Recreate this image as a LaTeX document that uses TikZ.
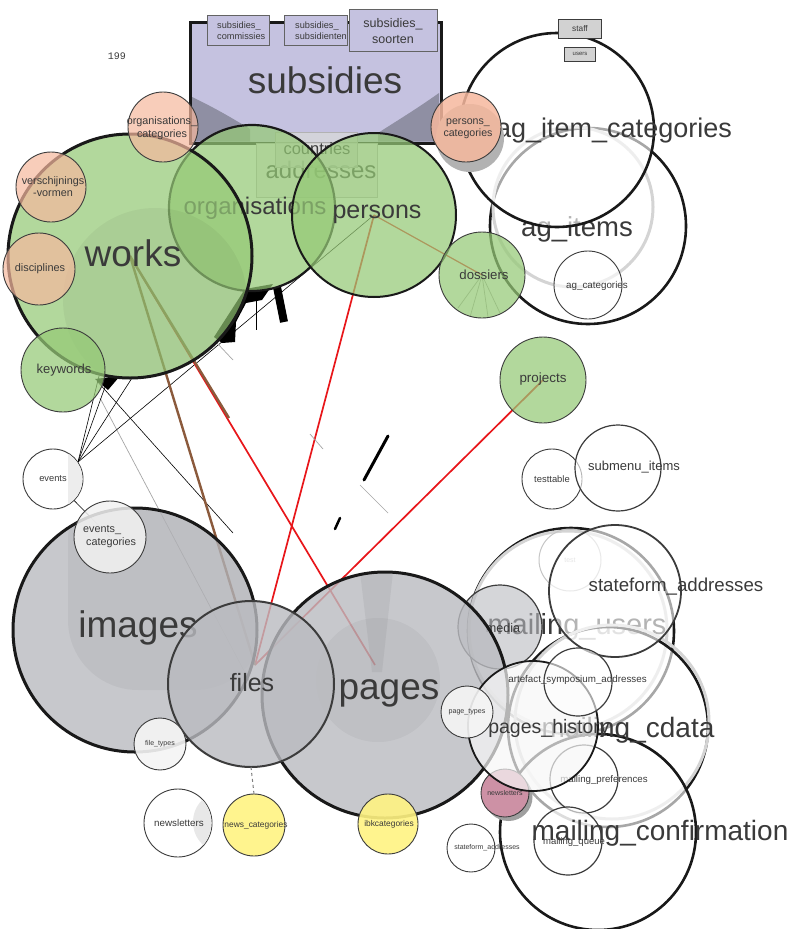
\documentclass[tikz,border=0pt]{standalone}
\usepackage{fontspec}
\setmainfont{Liberation Sans}
\setmonofont{Liberation Mono}
\usetikzlibrary{backgrounds}
\definecolor{grn}{RGB}{149,201,118}
\definecolor{sal}{RGB}{246,184,158}
\definecolor{gry}{RGB}{186,187,192}
\definecolor{lav}{RGB}{197,194,224}
\definecolor{yel}{RGB}{255,243,130}
\definecolor{pnk}{RGB}{205,145,165}
\definecolor{txt}{RGB}{58,58,58}
\definecolor{blk}{RGB}{25,25,25}
\definecolor{dgr}{RGB}{60,60,60}
\definecolor{redc}{RGB}{232,22,26}
\definecolor{brn}{RGB}{139,90,60}
\definecolor{wedge}{RGB}{143,143,163}
\definecolor{ringc}{RGB}{212,212,212}
\newcommand\fsz[1]{\fontsize{#1}{#1}\selectfont}
\newcommand\fsl[2]{\fontsize{#1}{#2}\selectfont}
\tikzset{
 bub/.style={circle, inner sep=0pt, outer sep=0pt, minimum size=#1pt},
 lbl/.style={text=txt, inner sep=0pt, align=center},
 bthick/.style={draw=blk, line width=2.6pt},
 bmid/.style={draw=dgr, line width=1.6pt},
 bthin/.style={draw=dgr, line width=0.9pt},
 gfill/.style={fill=grn, fill opacity=0.72},
 sfill/.style={fill=sal, fill opacity=0.7},
 gyfill/.style={fill=gry, fill opacity=0.8},
 wfill/.style={fill=white, fill opacity=0.62},
 yfill/.style={fill=yel, fill opacity=0.9},
 sbox/.style={rectangle, inner sep=0pt, fill=lav, draw=dgr!80, line width=0.8pt},
 redline/.style={draw=redc, line width=1.7pt},
 brline/.style={draw=brn, line width=2.4pt},
 blkline/.style={draw=black, line width=0.6pt},
 gryline/.style={draw=gray!70, line width=0.7pt},
}
\begin{document}
\begin{tikzpicture}[x=1pt,y=-1pt]
\useasboundingbox (0,0) rectangle (788,929);

\node[lbl, font=\ttfamily\fsz{10}] (num) at (117,56) {199};

% subsidies
\node[rectangle, inner sep=0pt, minimum width=251pt, minimum height=121pt, fill=lav, draw=blk, line width=3pt] (subsidies) at (315.5,82.5) {};
\fill[wedge] (192,97) .. controls (215,108) and (232,118) .. (250,129) -- (250,141.5) -- (192,141.5) -- cycle;
\fill[wedge] (439,93) .. controls (415,110) and (395,122) .. (378,133) -- (378,141.5) -- (439,141.5) -- cycle;
\node[lbl, font=\fsz{37}] (subsidies-l) at (325,80) {subsidies};
\node[sbox, minimum width=62pt, minimum height=30pt] (subcomm) at (238,30) {};
\node[lbl, font=\fsl{9.2}{11}, align=left, anchor=west] (subcomm-l) at (217,30.5) {subsidies\_\\commissies};
\node[sbox, minimum width=63pt, minimum height=30pt] (subsubs) at (315.5,30) {};
\node[lbl, font=\fsl{9.2}{11}, align=left, anchor=west] (subsubs-l) at (295,30.5) {subsidies\_\\subsidienten};
\node[sbox, minimum width=88pt, minimum height=42pt] (subsoort) at (393,30) {};
\node[lbl, font=\fsl{12.5}{16}] (subsoort-l) at (393,31.5) {subsidies\_\\soorten};

% addresses & countries
\node[rectangle, inner sep=0pt, minimum width=121pt, minimum height=54pt, fill=gray!12, draw=gray!55, line width=1pt] (addresses) at (316.5,170) {};
\node[lbl, font=\fsz{24}] (addresses-l) at (321,170) {addresses};
\node[rectangle, inner sep=0pt, minimum width=82pt, minimum height=35pt, fill=gray!30, fill opacity=0.75, draw=gray!60, line width=1pt] (countries) at (316,149.5) {};
\node[lbl, font=\fsz{16.5}] (countries-l) at (317,149) {countries};

% green
\node[bub=166, gfill, bthick, line width=2.2pt] (organisations) at (252,208) {};
\node[lbl, font=\fsz{24}] (organisations-l) at (255,208) {organisations};
\node[bub=164, gfill, bthick, line width=2pt] (persons) at (374,215) {};
\node[lbl, font=\fsz{25}] (persons-l) at (377,214) {persons};
\node[bub=244, gfill, bthick, line width=3pt] (works) at (130,256) {};
\begin{scope}
\clip (130,256) circle (120pt);
\fill[black, opacity=0.045] (155,300) circle (92pt);
\end{scope}
\node[lbl, font=\fsz{37}] (works-l) at (133,253) {works};

% salmon
\node[bub=70, sfill, bthin] (orgcat) at (163,127) {};
\node[lbl, font=\fsl{10.8}{12.5}] (orgcat-l) at (162,128) {organisations\_\\categories};
\node[bub=70, sfill, bthin] (versch) at (51,187) {};
\node[lbl, font=\fsl{10.8}{12.5}] (versch-l) at (53,186.5) {verschijnings\\-vormen};
\node[bub=72, sfill, bthin] (discipl) at (39,269) {};
\node[lbl, font=\fsz{10.9}] (discipl-l) at (40,269) {disciplines};
\node[bub=84, gfill, bthin] (keywords) at (63,370) {};
\node[lbl, font=\fsz{13}] (keywords-l) at (64,370) {keywords};

% ag group
\node[bub=196, wfill, bthick] (agitems) at (588,226) {};
\draw[ringc, line width=3pt] (573,207) circle (80pt);
\node[lbl, font=\fsz{27.5}] (agitems-l) at (577,229) {ag\_items};
\node[bub=194, wfill, bthick] (agitemcat) at (557,130) {};
\node[lbl, font=\fsz{27}] (agitemcat-l) at (614,131) {ag\_item\_categories};
\node[bub=68, wfill, bthin] (agcat) at (588,285) {};
\node[lbl, font=\fsz{9.8}] (agcat-l) at (597,286) {ag\_categories};
\node[rectangle, inner sep=0pt, minimum width=43pt, minimum height=19pt, fill=gray!35, draw=dgr, line width=0.8pt] (staff) at (579.5,28.5) {};
\node[lbl, font=\fsz{8.3}] (staff-l) at (580,29) {staff};
\node[rectangle, inner sep=0pt, minimum width=31pt, minimum height=14pt, fill=gray!35, draw=dgr, line width=0.8pt] (users) at (579.5,54) {};
\node[lbl, font=\fsz{6}] (users-l) at (580,54) {users};
\fill[gray!60] (470,138) circle (34pt);
\node[bub=70, sfill, fill opacity=0.85, bthin] (perscat) at (466,127) {};
\node[lbl, font=\fsl{10.6}{12.5}] (perscat-l) at (468,128.5) {persons\_\\categories};
\node[bub=86, gfill, bthin] (dossiers) at (482,275) {};
\node[lbl, font=\fsz{13.2}] (dossiers-l) at (484,275) {dossiers};
\node[bub=86, gfill, bthin] (projects) at (543,380) {};
\node[lbl, font=\fsz{13.4}] (projects-l) at (543,379) {projects};

% events
\node[bub=60, fill=white, bthin] (events) at (53,479) {};
\begin{scope}
\clip (53,479) circle (29.5pt);
\fill[gray!14] (68,440) rectangle (90,520);
\end{scope}
\node[lbl, font=\fsz{9.3}] (events-l) at (53,479) {events};

% mailing big circles
\node[bub=206, wfill, bthick] (mailusers) at (571,631) {};
\draw[ringc, line width=3pt] (568,630) circle (99pt);
\node[lbl, font=\fsz{29}] (mailusers-l) at (577,627) {mailing\_users};
\node[bub=200, wfill, bthick] (mailcdata) at (608,727) {};
\draw[ringc, line width=3pt] (612,722) circle (97pt);
\node[bub=196, wfill, bthick] (mailconf) at (598,832) {};
\node[lbl, font=\fsz{28}] (mailcdata-l) at (628,730) {mailing\_cdata};
\node[bub=84, fill=gry, fill opacity=0.6, bthin, line width=1.2pt] (media) at (500,627) {};
\node[lbl, font=\fsz{12.6}] (media-l) at (503,628) {media};

% images pages files
\node[bub=244, gyfill, bthick, line width=3pt] (images) at (135,630) {};
\begin{scope}
\clip (135,630) circle (120pt);
\fill[black, opacity=0.045, rounded corners=70pt] (68,470) rectangle (265,690);
\end{scope}
\node[lbl, font=\fsz{37}] (images-l) at (138,628) {images};
\node[bub=246, gyfill, bthick, line width=3pt] (pages) at (385,695) {};
\begin{scope}
\clip (385,695) circle (121pt);
\fill[black, opacity=0.04] (378,680) circle (62pt);
\fill[black, opacity=0.05] (360,572) -- (393,572) -- (382,672) -- (372,672) -- cycle;
\end{scope}
\node[lbl, font=\fsz{37}] (pages-l) at (389,693) {pages};
\node[bub=166, gyfill, bthick, draw=dgr, line width=2pt] (files) at (251,684) {};
\node[lbl, font=\fsz{25}] (files-l) at (252,683) {files};
\node[bub=52, fill=gray!8, fill opacity=0.9, bthin] (filetypes) at (160,744) {};
\node[lbl, font=\fsz{7}] (filetypes-l) at (160,744) {file\_types};
\node[bub=72, fill=gray!10, fill opacity=0.85, bthin] (evcat) at (110,537) {};
\node[lbl, font=\fsl{10.8}{13}, align=left, anchor=west] (evcat-l) at (83,537) {events\_\\\hspace*{3pt}categories};
\node[bub=68, fill=white, bthin] (newsl) at (178,823) {};
\begin{scope}
\clip (178,823) circle (33.5pt);
\fill[gray!18] (224,822) circle (31pt);
\end{scope}
\node[lbl, font=\fsz{9.8}] (newsl-l) at (179,823) {newsletters};
\node[bub=62, yfill, bthin] (newscat) at (254,825) {};
\node[lbl, font=\fsz{8.4}] (newscat-l) at (256,825) {news\_categories};
\node[bub=60, yfill, bthin] (ibk) at (388,824) {};
\node[lbl, font=\fsz{8.4}] (ibk-l) at (389,824) {ibkcategories};
\draw[gray, dashed, line width=1pt] (files.south) -- (newscat.north);

% right cluster
\node[bub=60, fill=white, bthin] (testtable) at (552,479) {};
\node[lbl, font=\fsz{9.4}] (testtable-l) at (552,479) {testtable};
\node[bub=86, wfill, bthin, line width=1.2pt] (submenu) at (618,468) {};
\node[lbl, font=\fsz{13}] (submenu-l) at (634,467) {submenu\_items};
\node[bub=62, draw=gray!45, line width=1pt] (test) at (570,560) {};
\node[lbl, font=\fsz{7}, text=gray!50] (test-l) at (570,560) {test};
\node[bub=132, wfill, bthick, draw=dgr, line width=1.8pt] (stateform) at (615,591) {};
\node[lbl, font=\fsz{18.7}] (stateform-l) at (676,587) {stateform\_addresses};
\node[bub=68, wfill, bthin, line width=1.2pt] (mailpref) at (584,779) {};
\node[lbl, font=\fsz{9.7}] (mailpref-l) at (604,780) {mailing\_preferences};
\node[bub=68, wfill, bthin, line width=1.2pt] (mailqueue) at (568,841) {};
\node[lbl, font=\fsz{9.5}] (mailqueue-l) at (574,842) {mailing\_queue};
\fill[gray!75] (508.5,797) circle (24pt);
\node[bub=48, fill=pnk, bthin] (newsl2) at (505,793) {};
\node[lbl, font=\fsz{7}] (newsl2-l) at (505,793) {newsletters};
\node[bub=130, fill=gray!6, fill opacity=0.7, bthick, draw=blk, line width=1.8pt] (pageshist) at (533,726) {};
\node[lbl, font=\fsz{19.5}] (pageshist-l) at (549,728) {pages\_history};
\node[bub=68, wfill, bthin, line width=1.2pt] (artefact) at (578,682) {};
\node[lbl, font=\fsz{9.8}] (artefact-l) at (577.5,680) {artefact\_symposium\_addresses};
\node[bub=52, fill=gray!8, fill opacity=0.9, bthin] (pagetypes) at (467,712) {};
\node[lbl, font=\fsz{7.1}] (pagetypes-l) at (467,712) {page\_types};
\node[bub=48, fill=white, bthin] (stateform2) at (471,848) {};
\node[lbl, font=\fsz{7}] (stateform2-l) at (487,848) {stateform\_addresses};
\node[lbl, font=\fsz{28}] (mailconf-l) at (660,833) {mailing\_confirmation};

% connectors behind everything
\begin{scope}[on background layer]
\fill[white] (0,0) rectangle (788,929);
\coordinate (fconv) at (255,665);
\coordinate (pconv) at (375,665);
\coordinate (brend) at (229,418);
\coordinate (evj) at (78,462);
\coordinate (ew1) at (99,376);
\coordinate (ew2) at (109,376);
\coordinate (ew3) at (132,378);
\coordinate (kwa) at (97,381);
\coordinate (kwb) at (233,533);
\coordinate (kwg) at (100,398);
\coordinate (ds1) at (470,317);
\coordinate (ds2) at (488,317);
\coordinate (ds3) at (500,313);
\coordinate (ds4) at (458,308);
\draw[gryline] (dossiers.center) -- (ds1);
\draw[gryline] (dossiers.center) -- (ds2);
\draw[gryline] (dossiers.center) -- (ds3);
\draw[gryline] (dossiers.center) -- (ds4);
\draw[gryline] (kwg) -- (files.center);
\draw[blkline] (evj) -- (persons.center);
\draw[blkline] (evj) -- (ew1);
\draw[blkline] (evj) -- (ew2);
\draw[blkline] (evj) -- (ew3);
\draw[blkline] (kwa) -- (kwb);
\draw[blkline] (events.center) -- (evcat.center);
\draw[redline] (persons.center) -- (fconv);
\draw[redline] (works.center) -- (pconv);
\draw[redline] (projects.center) -- (fconv);
\draw[redline, line width=1.2pt] (persons.center) -- (dossiers.center);
\draw[brline] (works.center) -- (fconv);
\draw[brline] (works.center) -- (brend);
\fill[black] (245,289) -- (273,284) -- (262,300) -- (246,303) -- (236,322) -- (235,342) -- (222,343) -- (214,337) -- cycle;
\fill[black] (95,379) -- (120,376) -- (108,390) -- cycle;
\draw[black, line width=8pt] (277,287) -- (284,322);
\draw[black, line width=3pt, line cap=round] (388,436) -- (364,480);
\draw[black, line width=2.5pt, line cap=round] (340,518) -- (335,529);
\draw[gryline] (310,434) -- (323,449);
\draw[gryline] (360,485) -- (388,513);
\draw[gryline] (217,343) -- (233,360);
\draw[black, line width=0.8pt] (256,297) -- (256,330);
\end{scope}
\end{tikzpicture}
\end{document}
